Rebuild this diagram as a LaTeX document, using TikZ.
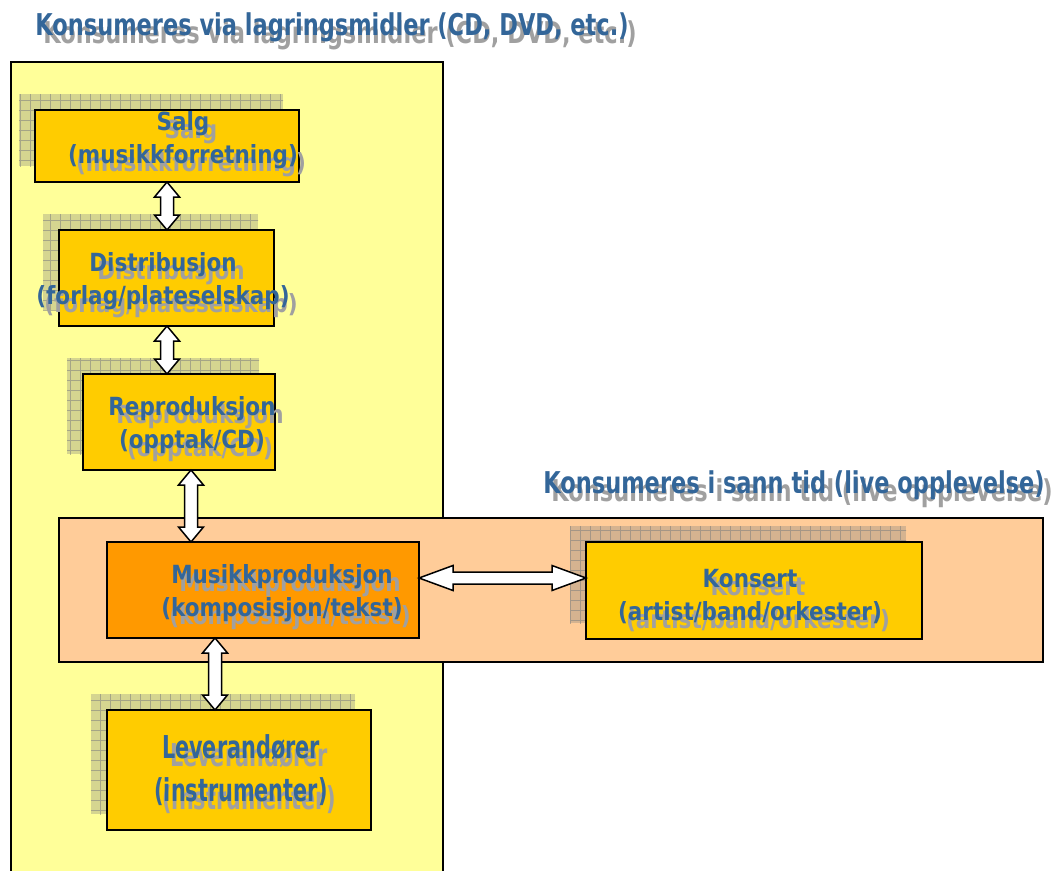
\documentclass[tikz,border=0pt]{standalone}
\usepackage{fontspec}
\newfontfamily\boxfont{DejaVu Sans}[FakeStretch=0.86]
\newfontfamily\levfont{DejaVu Sans}[FakeStretch=0.66]
\newfontfamily\titlefont{DejaVu Sans}[FakeStretch=0.75]
\usetikzlibrary{calc}
\definecolor{panelY}{HTML}{FFFF99}
\definecolor{panelO}{HTML}{FFCC99}
\definecolor{boxY}{HTML}{FFCC00}
\definecolor{boxO}{HTML}{FF9900}
\definecolor{txtblue}{HTML}{336699}
\definecolor{txtshadow}{HTML}{A0A0A0}
\definecolor{shgray}{HTML}{7F7F7F}
\tikzset{
  panelbox/.style={draw=black, line width=2pt, inner sep=0pt, outer sep=0pt},
  stepbox/.style={draw=black, line width=1.8pt, fill=boxY, inner sep=0pt, outer sep=0pt},
  mainbox/.style={stepbox, fill=boxO},
  boxshadow/.style={fill=shgray, fill opacity=0.32},
  shadowgrid/.style={draw=shgray, draw opacity=0.55, line width=0.8pt},
  btxt/.style={align=center, inner sep=0pt, font=\boxfont\bfseries\fontsize{25}{33}\selectfont},
  ltxt/.style={align=center, inner sep=0pt, font=\levfont\bfseries\fontsize{31.5}{43}\selectfont},
  ttxt/.style={align=center, inner sep=0pt, font=\titlefont\bfseries\fontsize{30}{36}\selectfont},
  blockarrow/.style={draw=black, fill=white, line width=1.5pt, line join=miter},
}
% text with a grey offset shadow
\newcommand{\dualtext}[4]{%
  \node[#3, text=txtshadow] (#1s) at ($(#2)+(8,8)$) {#4};
  \node[#3, text=txtblue] (#1) at (#2) {#4};}
% hatched shadow behind a box, offset up-left
\newcommand{\gridshadow}[1]{%
  \fill[boxshadow] ($(#1.south west)+(-16,-16)$) rectangle ($(#1.north east)+(-16,-16)$);
  \begin{scope}
    \clip ($(#1.south west)+(-16,-16)$) rectangle ($(#1.north east)+(-16,-16)$);
    \draw[shadowgrid, step=10pt] ($(#1.south west)+(-30,30)$) grid ($(#1.north east)+(10,-30)$);
  \end{scope}}
% vertical double block arrow between two points (top, bottom)
\newcommand{\varrow}[2]{%
  \draw[blockarrow] let \p1=(#1), \p2=(#2) in
    (\x1,\y1) -- (\x1+12.5pt,\y1-15pt) -- (\x1+6.5pt,\y1-15pt) -- (\x1+6.5pt,\y2+15pt)
    -- (\x1+12.5pt,\y2+15pt) -- (\x1,\y2) -- (\x1-12.5pt,\y2+15pt) -- (\x1-6.5pt,\y2+15pt)
    -- (\x1-6.5pt,\y1-15pt) -- (\x1-12.5pt,\y1-15pt) -- cycle;}
% horizontal double block arrow between two points (left, right)
\newcommand{\harrow}[2]{%
  \draw[blockarrow] let \p1=(#1), \p2=(#2) in
    (\x1,\y1) -- (\x1+34pt,\y1+12.5pt) -- (\x1+34pt,\y1+6pt) -- (\x2-34pt,\y1+6pt)
    -- (\x2-34pt,\y1+12.5pt) -- (\x2,\y1) -- (\x2-34pt,\y1-12.5pt) -- (\x2-34pt,\y1-6pt)
    -- (\x1+34pt,\y1-6pt) -- (\x1+34pt,\y1-12.5pt) -- cycle;}
\begin{document}
\begin{tikzpicture}[x=1pt, y=-1pt]
  \useasboundingbox (0,0) rectangle (1054,870);
  \clip (0,0) rectangle (1054,870);
  \fill[white] (0,0) rectangle (1054,870);

  % panels
  \node[panelbox, fill=panelY, minimum width=432, minimum height=830, anchor=north west] (storage) at (11,62) {};
  \node[panelbox, fill=panelO, minimum width=984, minimum height=144, anchor=north west] (live) at (59,518) {};

  % titles
  \dualtext{title1}{332,27}{ttxt}{Konsumeres via lagringsmidler (CD, DVD, etc.)}
  \dualtext{title2}{794,485}{ttxt}{Konsumeres i sann tid (live opplevelse)}

  % boxes (positions)
  \node[stepbox, minimum width=264, minimum height=72] (salg) at (167,146) {};
  \node[stepbox, minimum width=215, minimum height=96] (dist) at (166.5,278) {};
  \node[stepbox, minimum width=192, minimum height=96] (rep) at (179,422) {};
  \node[mainbox, minimum width=312, minimum height=96] (mus) at (263,590) {};
  \node[stepbox, minimum width=336, minimum height=97] (kons) at (754,590.5) {};
  \node[stepbox, minimum width=264, minimum height=120] (lev) at (239,770) {};

  % hatched shadows
  \gridshadow{salg}
  \gridshadow{dist}
  \gridshadow{rep}
  \gridshadow{kons}
  \gridshadow{lev}
  % boxes again, on top of their shadows
  \node[stepbox, minimum width=264, minimum height=72] (salgF) at (salg) {};
  \node[stepbox, minimum width=215, minimum height=96] (distF) at (dist) {};
  \node[stepbox, minimum width=192, minimum height=96] (repF) at (rep) {};
  \node[stepbox, minimum width=336, minimum height=97] (konsF) at (kons) {};
  \node[stepbox, minimum width=264, minimum height=120] (levF) at (lev) {};

  % box texts
  \dualtext{salgT}{183,140}{btxt}{Salg\\(musikkforretning)}
  \dualtext{distT}{163,281}{btxt}{Distribusjon\\(forlag/plateselskap)}
  \dualtext{repT}{192,425}{btxt}{Reproduksjon\\(opptak/CD)}
  \dualtext{musT}{282,593}{btxt}{Musikkproduksjon\\(komposisjon/tekst)}
  \dualtext{konsT}{750,597}{btxt}{Konsert\\(artist/band/orkester)}
  \dualtext{levT}{241,770}{ltxt}{Leverandører\\(instrumenter)}

  % arrows
  \coordinate (ax3) at (191,0);
  \coordinate (ax4) at (215,0);
  \coordinate (ay5) at (0,578);
  \varrow{salg.south}{dist.north -| salg.south}
  \varrow{dist.south -| salg.south}{rep.north -| salg.south}
  \varrow{rep.south -| ax3}{mus.north -| ax3}
  \varrow{mus.south -| ax4}{lev.north -| ax4}
  \harrow{mus.east |- ay5}{kons.west |- ay5}
\end{tikzpicture}
\end{document}
